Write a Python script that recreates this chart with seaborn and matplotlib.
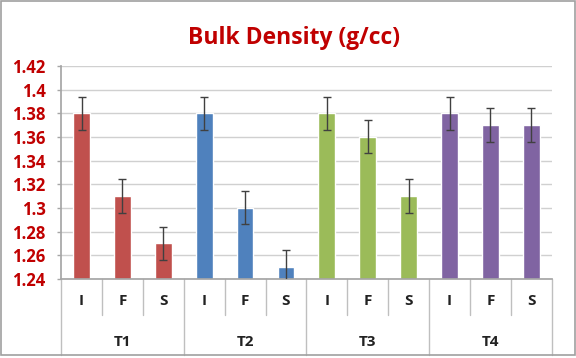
import matplotlib
matplotlib.use("Agg")
import matplotlib.pyplot as plt
import seaborn as sns
import pandas as pd
from matplotlib.patches import Rectangle
from matplotlib.lines import Line2D

groups = ["T1", "T2", "T3", "T4"]
stages = ["I", "F", "S"]
values = [1.38, 1.31, 1.27,
          1.38, 1.30, 1.25,
          1.38, 1.36, 1.31,
          1.38, 1.37, 1.37]
errors = [0.014] * 12
colors = ["#C0504D", "#4F81BD", "#9BBB59", "#8064A2"]
yticks = [1.24, 1.26, 1.28, 1.30, 1.32, 1.34, 1.36, 1.38, 1.40, 1.42]

sns.set_theme(style="white")
plt.rcParams["font.family"] = ["Open Sans", "DejaVu Sans"]

keys = [f"{g}-{s}" for g in groups for s in stages]
df = pd.DataFrame({
    "key": keys,
    "group": [g for g in groups for _ in stages],
    "stage": [s for _ in groups for s in stages],
    "value": values,
})

fig = plt.figure(figsize=(5.76, 3.58), dpi=100)
ax = fig.add_axes([0.106, 0.221, 0.852, 0.595])

sns.barplot(data=df, x="key", y="value", hue="group", order=keys,
            hue_order=groups, palette=colors, dodge=False, width=0.41,
            errorbar=None, legend=False, ax=ax, saturation=1)
ax.errorbar(range(len(keys)), values, yerr=errors, fmt="none",
            ecolor="#404040", elinewidth=1, capsize=3, capthick=1, zorder=5)

ax.set_ylim(1.24, 1.42)
ax.set_xlim(-0.5, len(keys) - 0.5)
ax.set_yticks(yticks)
ax.set_yticklabels([f"{v:.2f}".rstrip("0") for v in yticks],
                   color="#C00000", fontweight="bold", fontsize=12)
ax.tick_params(axis="y", length=3, color="#A6A6A6", width=1, pad=8, left=True)
ax.yaxis.grid(True, color="#D0D0D0", linewidth=1)
ax.set_axisbelow(True)
for s in ["top", "right"]:
    ax.spines[s].set_visible(False)
ax.spines["left"].set_color("#A6A6A6")
ax.spines["bottom"].set_color("#A6A6A6")
ax.set_xlabel("")
ax.set_ylabel("")
ax.set_xticks(range(len(keys)))
ax.set_xticklabels(stages * len(groups), fontweight="bold", fontsize=11, color="#222222")
ax.tick_params(axis="x", length=0, pad=11)

trans = ax.get_xaxis_transform()
ph = 213.0
for i in range(len(keys) + 1):
    x = i - 0.5
    if i % 3 == 0:
        y0 = -(355 - 279) / ph
    else:
        y0 = -(315 - 279) / ph
    ax.add_line(Line2D([x, x], [0, y0], transform=trans, color="#BFBFBF",
                       linewidth=1, clip_on=False))
for gi, g in enumerate(groups):
    ax.text(gi * 3 + 1, -(342 - 279) / ph, g, transform=trans, ha="center",
            va="center", fontweight="bold", fontsize=11, color="#222222")

fig.text(0.510, 0.895, "Bulk Density (g/cc)", ha="center", va="center",
         color="#C00000", fontweight="bold", fontsize=16.5)

fig.add_artist(Rectangle((0.002, 0.008), 0.996, 0.99, transform=fig.transFigure,
                         fill=False, edgecolor="#A0A0A0", linewidth=1.2))

fig.savefig("out.png", dpi=100)
